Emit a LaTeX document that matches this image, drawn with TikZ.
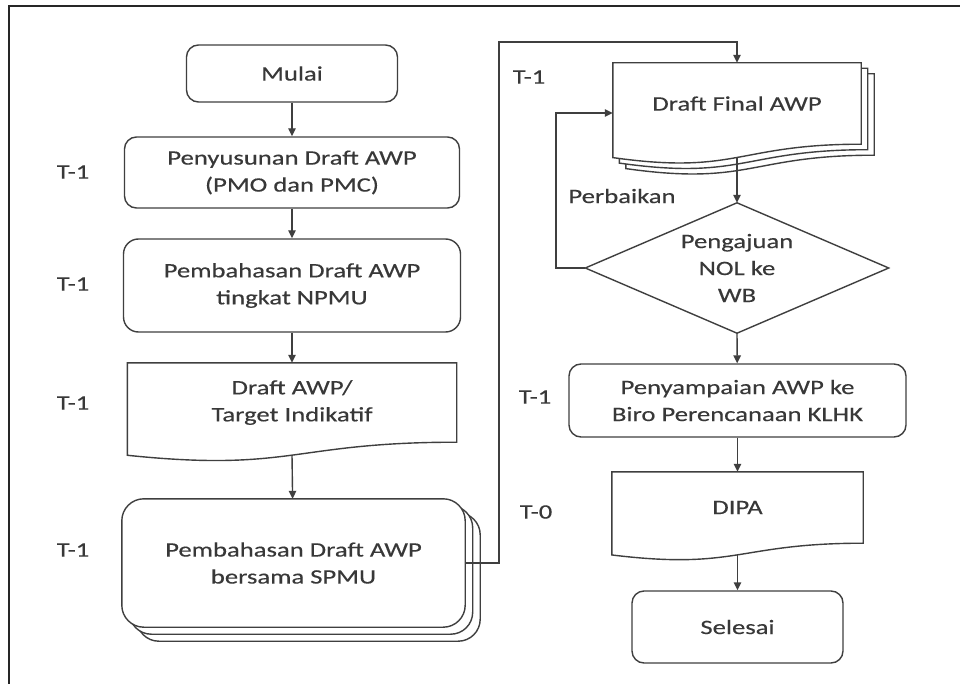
\documentclass[tikz,border=0pt]{standalone}
\usepackage{fontspec}
\setmainfont{Carlito}[FakeStretch=1.3, FakeBold=0.3]
\usetikzlibrary{arrows.meta,calc}
\definecolor{ink}{HTML}{3F3F3F}
\definecolor{txt}{HTML}{383838}

% Document symbol with a wavy lower edge; the node covers the part above
% the right-hand end of the wave. #2,#3 shift the copy right/down (pt).
\newcommand{\docshape}[3]{%
  \draw[line, fill=white]
    let \p1=($(#1.north west)+(#2pt,-#3pt)$),
        \p2=($(#1.south east)+(#2pt,-#3pt)$),
        \n1={\y1-\y2}, \n2={(\x1+\x2)/2} in
    (\p1) -- (\x2,\y1) -- (\p2)
    .. controls (\n2,\y2) and (\n2,{\y1-1.3803*\n1}) .. (\x1,{\y1-1.1646*\n1})
    -- cycle;}

\begin{document}
\begin{tikzpicture}[x=1pt,y=-1pt,
  every node/.style={font=\fontsize{20.5}{27}\selectfont, text=txt,
                     align=center, inner sep=0pt},
  line/.style={draw=ink, line width=1.4pt},
  arr/.style={line, -{Triangle[length=8pt,width=7.5pt]}},
  rbox/.style={line, rectangle, rounded corners=12pt, fill=white},
  plain/.style={rectangle},
  tag/.style={}]

\useasboundingbox (0,0) rectangle (960,684);
\fill[white] (0,0) rectangle (960,684);

% frame
\draw[line width=2.4pt, draw=black!85] (9,684) -- (9,6) -- (960,6);

% ---- left column
\node[rbox, minimum width=211pt, minimum height=57pt] (mulai) at (292,73.5) {Mulai};
\node[rbox, minimum width=335pt, minimum height=71pt] (susun) at (292,172.5)
  {Penyusunan Draft AWP\\(PMO dan PMC)};
\node[rbox, rounded corners=15pt, minimum width=337pt, minimum height=93pt] (npmu) at (292,285.5)
  {Pembahasan Draft AWP\\tingkat NPMU};
\node[plain, minimum width=329pt, minimum height=79pt] (draft) at (292,402.5) {};
\docshape{draft}{0}{0}
\node at (draft) {Draft AWP/\\Target Indikatif};

\node[plain, minimum width=343pt, minimum height=128pt] (spmu) at (293.5,563) {};
\draw[line, fill=white, rounded corners=22pt]
  ($(spmu.north west)+(15pt,-14pt)$) rectangle ($(spmu.south east)+(15pt,-14pt)$);
\draw[line, fill=white, rounded corners=22pt]
  ($(spmu.north west)+(7.5pt,-7pt)$) rectangle ($(spmu.south east)+(7.5pt,-7pt)$);
\draw[line, fill=white, rounded corners=22pt] (spmu.north west) rectangle (spmu.south east);
\node at (spmu) {Pembahasan Draft AWP\\bersama SPMU};

% ---- right column
\node[plain, minimum width=248pt, minimum height=81pt] (final) at (737,103.5) {};
\docshape{final}{13}{11}
\docshape{final}{6.5}{5.5}
\docshape{final}{0}{0}
\node at (final) {Draft Final AWP};

\node[plain, minimum width=303pt, minimum height=130pt] (nol) at (737,268) {};
\draw[line] (nol.north) -- (nol.east) -- (nol.south) -- (nol.west) -- cycle;
\node at (nol) {Pengajuan\\NOL ke\\WB};

\node[rbox, minimum width=337pt, minimum height=73pt] (kirim) at (737.5,400.5)
  {Penyampaian AWP ke\\Biro Perencanaan KLHK};
\node[plain, minimum width=251pt, minimum height=71pt] (dipa) at (737.5,507.5) {};
\docshape{dipa}{0}{0}
\node at (dipa) {DIPA};
\node[rbox, minimum width=211pt, minimum height=72pt] (selesai) at (737.5,627) {Selesai};

% ---- time tags
\node[tag] (ta) at (73,172) {T-1};
\node[tag] (tb) at (73,284) {T-1};
\node[tag] (tc) at (73,403) {T-1};
\node[tag] (td) at (73,550) {T-1};
\node[tag] (te) at (529,77) {T-1};
\node[tag] (tf) at (535,397) {T-1};
\node[tag] (tg) at (536,512) {T-0};
\node[tag] (perb) at (622,196) {Perbaikan};

% ---- connectors
\draw[arr] (mulai) -- (susun);
\draw[arr] (susun) -- (npmu);
\draw[arr] (npmu) -- (draft);
\draw[arr] ($(draft.south)+(0,13)$) -- (spmu);
\coordinate (up) at (499,42);
\draw[arr] (spmu.east) -| (up) -| (final.north);
\draw[arr] ($(final.south)+(0,13)$) -- (nol.north);
\coordinate (fb) at (556,113);
\draw[arr] (nol.west) -| (fb) -- (fb -| final.west);
\draw[arr] (nol.south) -- (kirim);
\draw[arr] (kirim) -- (dipa);
\draw[arr] ($(dipa.south)+(0,11.6)$) -- (selesai);
\end{tikzpicture}
\end{document}
